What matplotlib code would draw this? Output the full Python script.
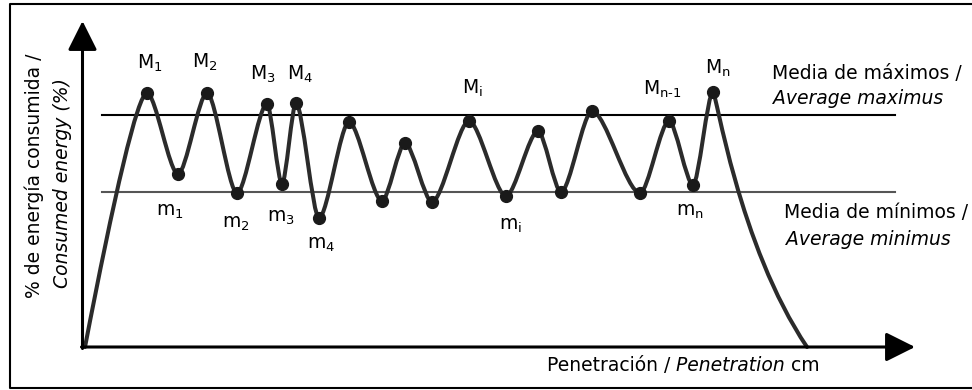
import matplotlib.pyplot as plt
from matplotlib.path import Path
from matplotlib.patches import PathPatch
from matplotlib.lines import Line2D

# extrema of the energy curve: penetration (cm), energy (%)
pen_cm = [0, 6.2, 9.3, 12.2, 15.2, 18.2, 19.7, 21.1, 23.4, 26.4, 29.7, 32.0,
          34.7, 38.4, 42.1, 45.3, 47.6, 50.7, 55.5, 58.4, 60.8, 62.8, 72.2]
energy_pct = [0, 100, 68.1, 100, 60.6, 95.7, 64.2, 96.1, 50.8, 88.6, 57.5, 80.3,
              57.1, 89.0, 59.4, 85.0, 61.0, 92.9, 60.6, 89.0, 63.8, 100.4, 0]
avg_max = 91.3
avg_min = 61.0

# which extrema get a name
label_idx = [1, 3, 5, 7, 13, 19, 21, 2, 4, 6, 8, 14, 20]
label_txt = ['M_1', 'M_2', 'M_3', 'M_4', 'M_i', r'M_{n\text{-}1}', 'M_n',
             'm_1', 'm_2', 'm_3', 'm_4', 'm_i', 'm_n']
label_off = [(3, 30), (-2, 31), (-4, 30), (4, 29), (3, 33), (-7, 32), (5, 24),
             (-8, -37), (-1, -30), (-1, -34), (2, -27), (4, -29), (-3, -27)]

W, H = 972, 390
X0, XS = 85, 10.0     # pixel of origin, pixels per cm
Y0, YS = 347, 2.54    # pixel of origin, pixels per %

fig = plt.figure(figsize=(W / 100, H / 100), dpi=100)
ax = fig.add_axes([0, 0, 1, 1])
ax.set_xlim(-X0 / XS, (W - X0) / XS)
ax.set_ylim((Y0 - H) / YS, Y0 / YS)
ax.axis('off')

FS = 13.5
curve_col = '#2b2b2b'


def fx(px):
    return px / W


def fy(py):
    return 1 - py / H


# smooth curve through the extrema (bezier segments, flat tangent at each extremum)
verts = [(pen_cm[0], energy_pct[0])]
codes = [Path.MOVETO]
n = len(pen_cm)
for i in range(n - 1):
    x0, y0 = pen_cm[i], energy_pct[i]
    x1, y1 = pen_cm[i + 1], energy_pct[i + 1]
    dx, dy = x1 - x0, y1 - y0
    if i == 0:
        c1 = (x0 + 0.46 * dx, y0 + 0.585 * dy)
        c2 = (x1 - 0.15 * dx, y1)
    elif i == n - 2:
        c1 = (x0 + 0.035 * dx, y0)
        c2 = (x0 + 0.27 * dx, y0 + 0.6 * dy)
    else:
        c1 = (x0 + 0.28 * dx, y0)
        c2 = (x1 - 0.28 * dx, y1)
    verts += [c1, c2, (x1, y1)]
    codes += [Path.CURVE4] * 3
ax.add_patch(PathPatch(Path(verts, codes), fill=False, lw=2.9,
                       edgecolor=curve_col, capstyle='round', joinstyle='round', zorder=3))

ax.plot(pen_cm[1:-1], energy_pct[1:-1], 'o', ms=8.5, color='#1a1a1a', zorder=4)

# mean lines
x_a, x_b = (102 - X0) / XS, (895 - X0) / XS
ax.plot([x_a, x_b], [avg_max, avg_max], color='black', lw=1.5, zorder=2)
ax.plot([x_a, x_b], [avg_min, avg_min], color='#555555', lw=1.5, zorder=2)

for idx, txt, off in zip(label_idx, label_txt, label_off):
    ax.annotate(r'$\mathregular{%s}$' % txt, xy=(pen_cm[idx], energy_pct[idx]),
                xytext=off, textcoords='offset pixels', ha='center', va='center',
                fontsize=FS)

# axes with arrow heads
ax_x = (82.5 - X0) / XS
head = dict(arrowstyle='-|>,head_length=0.9,head_width=0.45', mutation_scale=20,
            lw=2.2, color='black', shrinkA=0, shrinkB=0)
ax.annotate('', xy=(ax_x, (Y0 - 21) / YS), xytext=(ax_x, -0.6), arrowprops=head)
ax.annotate('', xy=((915 - X0) / XS, 0), xytext=(ax_x - 0.1, 0), arrowprops=head)

# axis titles
t1 = fig.text(fx(547), fy(371), 'Penetración /', fontsize=FS, va='baseline')
t2 = ax.annotate(' Penetration', xy=(1, 0), xycoords=t1, va='bottom', fontsize=FS,
                 style='italic')
ax.annotate(' cm', xy=(1, 0), xycoords=t2, va='bottom', fontsize=FS)

fig.text(fx(34), fy(176), '% de energía consumida /', rotation=90, fontsize=FS,
         ha='center', va='center')
fig.text(fx(62), fy(183), 'Consumed energy (%)', rotation=90, fontsize=FS,
         style='italic', ha='center', va='center')

fig.text(fx(772), fy(79), 'Media de máximos /', fontsize=FS, va='baseline')
fig.text(fx(773), fy(104), 'Average maximus', fontsize=FS, va='baseline', style='italic')
fig.text(fx(784), fy(218), 'Media de mínimos /', fontsize=FS, va='baseline')
fig.text(fx(786), fy(245), 'Average minimus', fontsize=FS, va='baseline', style='italic')

# outer frame (right edge falls outside the picture)
fig.add_artist(Line2D([fx(980), fx(9.5), fx(9.5), fx(980)],
                      [fy(4), fy(4), fy(387.5), fy(387.5)],
                      transform=fig.transFigure, color='black', lw=1.5))

fig.savefig('out.png', dpi=100)
